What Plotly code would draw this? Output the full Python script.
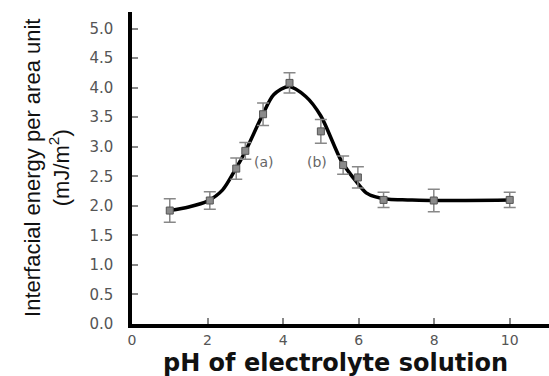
import plotly.graph_objects as go

# Measured data points (pH, interfacial energy, error)
ph_points = [1.0, 2.06, 2.76, 3.0, 3.47, 4.17, 5.0, 5.59, 5.98, 6.66, 7.99, 10.0]
energy_points = [1.92, 2.09, 2.63, 2.93, 3.55, 4.08, 3.26, 2.69, 2.48, 2.10, 2.09, 2.10]
energy_err = [0.20, 0.15, 0.18, 0.14, 0.19, 0.17, 0.20, 0.155, 0.18, 0.13, 0.19, 0.13]

# Fitted curve
ph_curve = [1.0, 1.5, 2.0, 2.4, 2.75, 3.0, 3.45, 3.75, 4.15, 4.6, 5.0, 5.55, 5.95, 6.2, 6.45, 6.8, 7.3, 8.0, 10.0]
energy_curve = [1.92, 1.98, 2.08, 2.27, 2.63, 2.92, 3.53, 3.88, 4.02, 3.85, 3.52, 2.75, 2.40, 2.22, 2.15, 2.11, 2.10, 2.09, 2.10]

x_ticks = [0, 2, 4, 6, 8, 10]
y_ticks = [0.0, 0.5, 1.0, 1.5, 2.0, 2.5, 3.0, 3.5, 4.0, 4.5, 5.0]
y_tick_text = ["%.1f" % v for v in y_ticks]

labels = ["(a)", "(b)"]
label_x = [3.49, 4.9]
label_y = [2.74, 2.74]

fig = go.Figure()
fig.add_trace(go.Scatter(
    x=ph_curve, y=energy_curve, mode="lines",
    line=dict(color="black", width=3.5, shape="spline", smoothing=0.8),
    hoverinfo="skip", showlegend=False))
fig.add_trace(go.Scatter(
    x=ph_points, y=energy_points, mode="markers",
    marker=dict(symbol="square", size=7, color="#8a8a8a",
                line=dict(color="#555555", width=1)),
    error_y=dict(type="data", array=energy_err, visible=True,
                 color="#888888", thickness=1.5, width=6),
    showlegend=False))

for t, xx, yy in zip(labels, label_x, label_y):
    fig.add_annotation(x=xx, y=yy, text=t, showarrow=False,
                       font=dict(family="DejaVu Sans", size=14, color="#666666"))

fig.add_annotation(xref="paper", yref="paper", x=-0.204, y=0.5,
                   text="Interfacial energy per area unit<br>(mJ/m<sup>2</sup>)",
                   textangle=-90, showarrow=False, xanchor="center", yanchor="middle",
                   font=dict(family="Liberation Sans, Arial", size=22, color="#111111"))
fig.add_annotation(xref="paper", yref="paper", x=0.488, y=-0.124,
                   text="<b>pH of electrolyte solution</b>", showarrow=False,
                   xanchor="center", yanchor="middle",
                   font=dict(family="DejaVu Sans", size=24, color="#111111"))

fig.update_layout(
    width=549, height=376,
    margin=dict(l=132, r=0, t=12, b=52),
    paper_bgcolor="white", plot_bgcolor="white",
    showlegend=False,
)
fig.update_xaxes(range=[0, 11.04], tickvals=x_ticks, ticktext=[str(v) for v in x_ticks],
                 showline=True, linecolor="black", linewidth=3.5,
                 ticks="inside", ticklen=6, tickwidth=1.5, tickcolor="#888888",
                 showgrid=False, zeroline=False,
                 tickfont=dict(family="DejaVu Sans", size=14, color="#555555"),
                 ticklabelstandoff=0)
fig.update_yaxes(range=[0, 5.28], tickvals=y_ticks, ticktext=y_tick_text,
                 showline=True, linecolor="black", linewidth=3.5,
                 ticks="inside", ticklen=6, tickwidth=1.5, tickcolor="#888888",
                 showgrid=False, zeroline=False,
                 tickfont=dict(family="DejaVu Sans", size=15, color="#555555"),
                 ticklabelstandoff=12)

fig.write_html("out.html", config={"displayModeBar": False},
               post_script="document.body.style.margin='0';document.body.style.overflow='hidden';")
